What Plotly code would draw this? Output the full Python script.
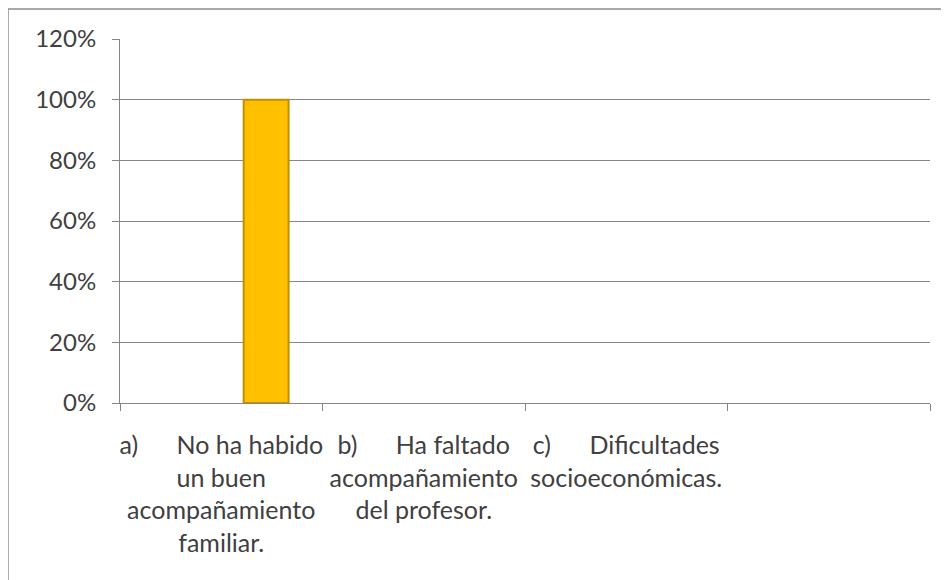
import plotly.graph_objects as go

# categorias del eje x (la cuarta va vacia, como en el original)
categorias = ["a)", "b)", "c)", " "]
etiquetas = [
    "a)\u00a0\u00a0\u00a0\u00a0\u00a0\u00a0No ha habido<br>un buen<br>acompañamiento<br>familiar.",
    "b)\u00a0\u00a0\u00a0\u00a0\u00a0\u00a0Ha faltado<br>acompañamiento<br>del profesor.",
    "c)\u00a0\u00a0\u00a0\u00a0\u00a0\u00a0Dificultades<br>socioeconómicas.",
    " ",
]
serie_1 = [None, None, None, None]
serie_2 = [None, None, None, None]
serie_3 = [1.0, None, None, None]

gris = "#868686"
texto = "#404040"
fuente = "Lato"

fig = go.Figure()
for nombre, valores in [("Serie 1", serie_1), ("Serie 2", serie_2), ("Serie 3", serie_3)]:
    fig.add_trace(go.Bar(
        x=categorias, y=valores, name=nombre,
        marker=dict(color="#FFC000", line=dict(color="#BF9000", width=2)),
    ))

# la pagina deja 8px de margen, por eso la figura es 941x572
fig.update_layout(
    width=941, height=572,
    margin=dict(l=112, r=19, t=31, b=177),
    paper_bgcolor="white", plot_bgcolor="white",
    showlegend=False,
    barmode="group", bargap=0.335, bargroupgap=0,
    font=dict(family=fuente, size=24, color=texto),
)

fig.update_xaxes(
    type="category", categoryorder="array", categoryarray=categorias,
    tickvals=categorias, ticktext=etiquetas,
    tickson="boundaries", ticks="outside", ticklen=7, tickcolor=gris,
    showline=True, linecolor=gris, linewidth=1,
    showgrid=False, tickangle=0, automargin=False,
    ticklabelstandoff=20,
    tickfont=dict(family=fuente, size=25, color=texto),
    range=[-0.5, 3.5],
)
fig.update_yaxes(
    range=[0, 1.2], dtick=0.2, tickformat=".0%",
    ticks="outside", ticklen=7, tickcolor=gris,
    showline=True, linecolor=gris, linewidth=1,
    showgrid=True, gridcolor=gris, gridwidth=1,
    zeroline=False, ticklabelstandoff=11, automargin=False,
    tickfont=dict(family=fuente, size=24, color=texto),
)

# borde del area del grafico (sale por la derecha y por abajo)
fig.add_shape(
    type="rect", xref="paper", yref="paper",
    x0=-0.1383, x1=1.2, y0=-0.7, y1=1.0824,
    line=dict(color="#8c8c8c", width=1.5), fillcolor="rgba(0,0,0,0)",
)

fig.write_html("out.html")
